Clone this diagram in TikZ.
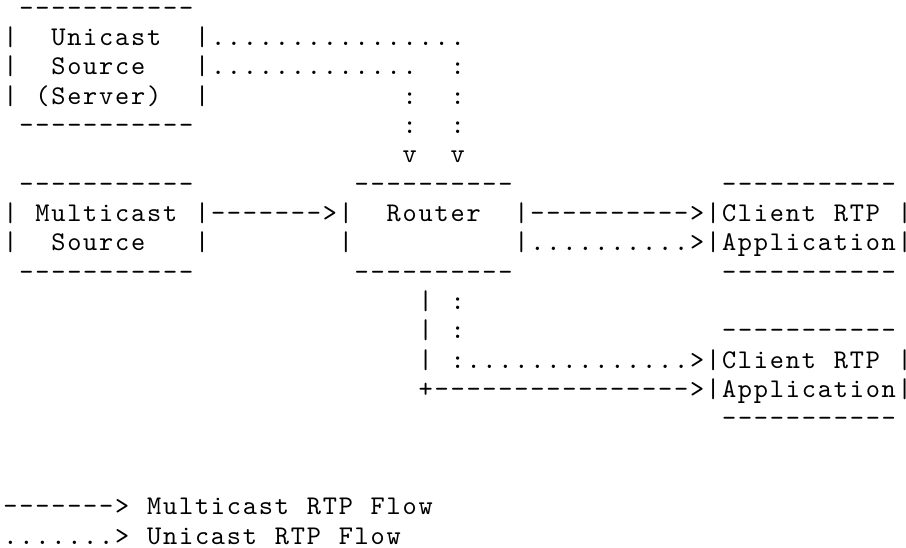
\documentclass[tikz,border=0pt]{standalone}
\usepackage{fontspec}
\newfontfamily\gridfont{lmmono10-regular.otf}
\newcommand\asciifont{\gridfont\fontsize{27}{29.33}\selectfont}
% every character sits in a fixed-width cell of the text grid
\def\gridend{\gridend}
\def\gridtext#1{\gridloop#1\gridend}
\def\gridloop#1{\ifx#1\gridend\else\hbox to 15.97pt{\hss#1\hss}\expandafter\gridloop\fi}
\tikzset{asc/.style={anchor=base west, inner sep=0pt, outer sep=0pt, font=\asciifont, text=black}}
\newcommand\asc[4]{\node[asc] (#1) at ({2.5+15.97*(#2)},{-16.2-29.33*(#3)}) {\gridtext{#4}};}
\begin{document}
\begin{tikzpicture}[x=1pt,y=1pt]
\fill[white] (0,0) rectangle (906,-548);
\useasboundingbox (0,0) rectangle (906,-548);
% Unicast source box
\asc{ubtop}{1}{0}{-----------}
\asc{ubl1}{0}{1}{|~~Unicast~~|}
\asc{ubl2}{0}{2}{|~~Source~~~|}
\asc{ubl3}{0}{3}{|~(Server)~~|}
\asc{ubbot}{1}{4}{-----------}
% unicast flows to router
\asc{ua1}{13}{1}{................}
\asc{ua2}{13}{2}{.............}
\asc{ub2}{28}{2}{:}
\asc{ua3}{25}{3}{:}
\asc{ub3}{28}{3}{:}
\asc{ua4}{25}{4}{:}
\asc{ub4}{28}{4}{:}
\asc{uav}{25}{5}{v}
\asc{ubv}{28}{5}{v}
% Multicast source box
\asc{mstop}{1}{6}{-----------}
\asc{msl1}{0}{7}{|~Multicast~|}
\asc{msl2}{0}{8}{|~~Source~~~|}
\asc{msbot}{1}{9}{-----------}
% Router box
\asc{rtop}{22}{6}{----------}
\asc{rl1}{21}{7}{|~~Router~~|}
\asc{rl2}{21}{8}{|~~~~~~~~~~|}
\asc{rbot}{22}{9}{----------}
% Client 1 box
\asc{c1top}{45}{6}{-----------}
\asc{c1l1}{44}{7}{|Client~RTP~|}
\asc{c1l2}{44}{8}{|Application|}
\asc{c1bot}{45}{9}{-----------}
% flows
\asc{m1}{13}{7}{------->}
\asc{m2}{33}{7}{---------->}
\asc{u5}{33}{8}{..........>}
% down from router
\asc{d10a}{26}{10}{|}
\asc{d10b}{28}{10}{:}
\asc{d11a}{26}{11}{|}
\asc{d11b}{28}{11}{:}
\asc{d12a}{26}{12}{|}
\asc{d12b}{28}{12}{:}
\asc{u6}{29}{12}{..............>}
\asc{m3}{26}{13}{+---------------->}
% Client 2 box
\asc{c2top}{45}{11}{-----------}
\asc{c2l1}{44}{12}{|Client~RTP~|}
\asc{c2l2}{44}{13}{|Application|}
\asc{c2bot}{45}{14}{-----------}
% legend
\asc{leg1}{0}{17}{------->~Multicast~RTP~Flow}
\asc{leg2}{0}{18}{.......>~Unicast~RTP~Flow}
\end{tikzpicture}
\end{document}
